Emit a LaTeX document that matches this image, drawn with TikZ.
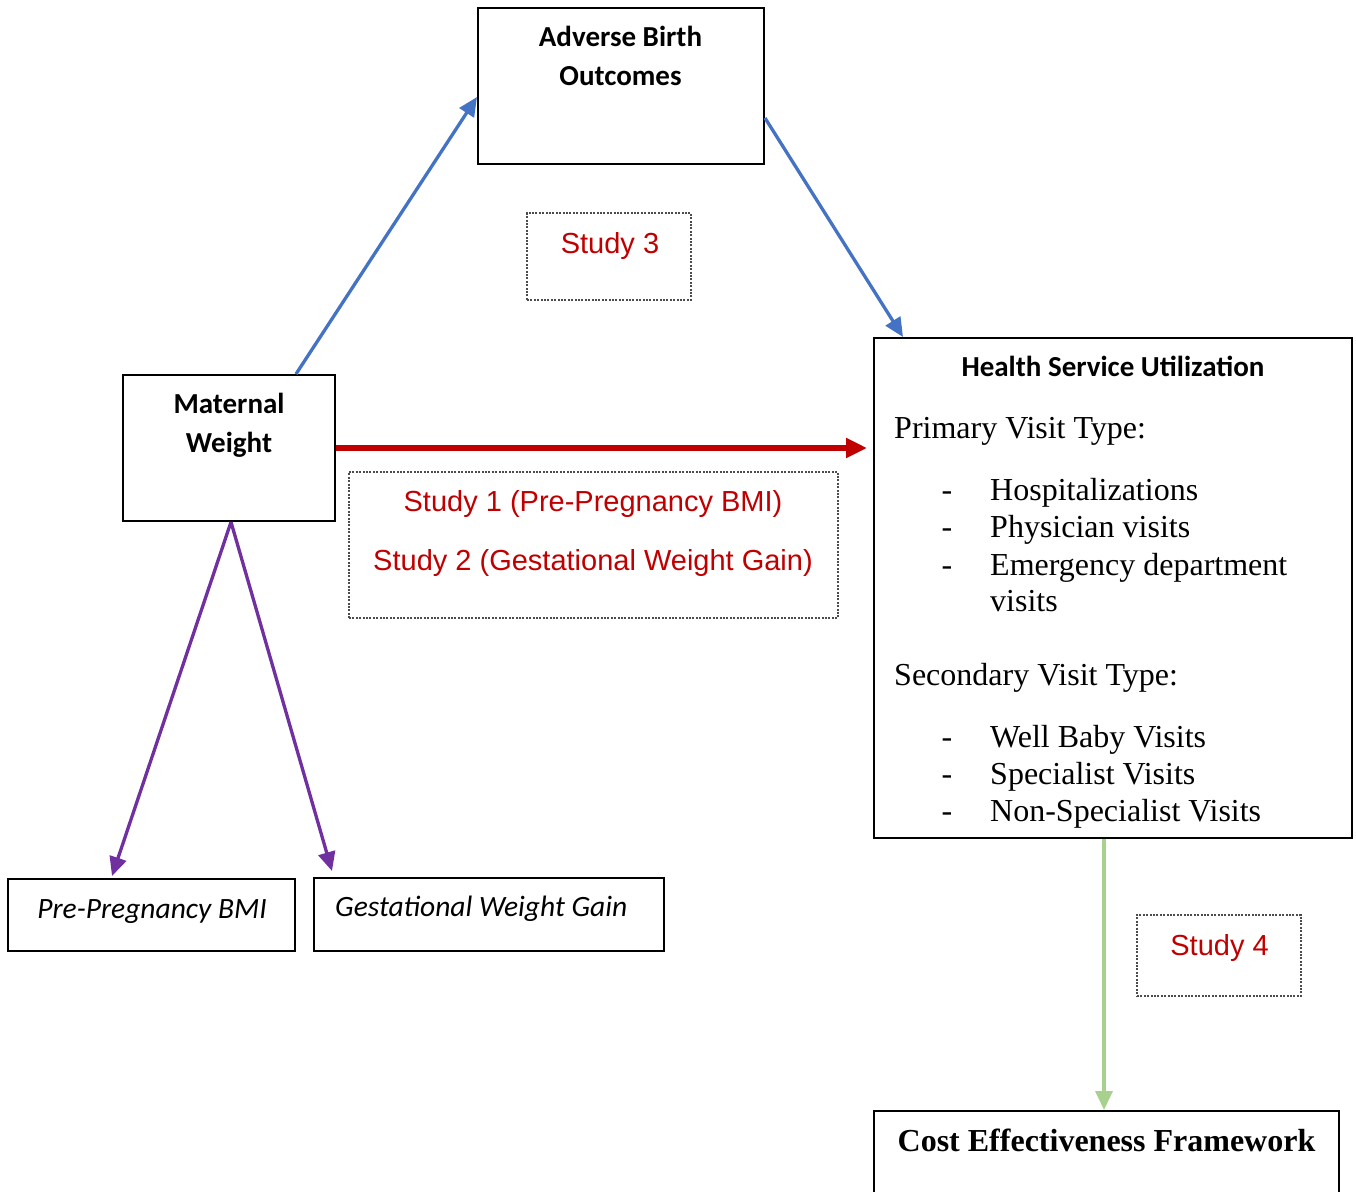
\documentclass[tikz,border=0pt]{standalone}
\usepackage{fontspec}
\setmainfont{Liberation Serif}
\newfontfamily\calfont{Carlito}
\newfontfamily\arifont{Liberation Sans}
\usetikzlibrary{arrows.meta,calc}
\definecolor{cblue}{HTML}{4472C4}
\definecolor{cred}{HTML}{C00000}
\definecolor{cpurple}{HTML}{7030A0}
\definecolor{cgreen}{HTML}{A9D18E}
\begin{document}
\begin{tikzpicture}[x=1pt,y=-1pt,
  box/.style={draw=black,line width=2pt,inner sep=0pt,fill=none},
  dotbox/.style={draw=black!70,line width=2.4pt,dash pattern=on 2pt off 1.4pt,inner sep=0pt},
  headtext/.style={font=\calfont\bfseries\fontsize{29}{39}\selectfont,inner sep=0pt},
  ittext/.style={font=\calfont\itshape\fontsize{29.5}{39}\selectfont,inner sep=0pt},
  studytext/.style={font=\arifont\fontsize{29}{35}\selectfont,text=cred,inner sep=0pt},
  bodytext/.style={font=\fontsize{32}{37}\selectfont,inner sep=0pt},
  conn/.style={line width=3.3pt,-{Triangle[length=19pt,width=17pt]}}
]
\useasboundingbox (0,0) rectangle (1356,1191);
\fill[white] (0,0) rectangle (1356,1191);

% boxes
\node[box,minimum width=286pt,minimum height=156pt] (abo) at (621,86) {};
\node[box,minimum width=212pt,minimum height=146pt] (mw) at (229,448) {};
\node[box,minimum width=478pt,minimum height=500pt] (hsu) at (1113,588) {};
\node[box,minimum width=287pt,minimum height=72pt] (pp) at (151.5,915) {};
\node[box,minimum width=350pt,minimum height=73pt] (gwg) at (489,914.5) {};
\node[box,minimum width=465pt,minimum height=88pt] (cef) at (1106.5,1155) {};

% dotted study boxes
\node[dotbox,minimum width=164pt,minimum height=87pt] (s3) at (609,256.5) {};
\node[dotbox,minimum width=489pt,minimum height=146pt] (s12) at (593.5,545) {};
\node[dotbox,minimum width=164pt,minimum height=81pt] (s4) at (1219,955.5) {};

% box texts
\node[headtext,anchor=base] (abo1) at (620.5,46) {Adverse Birth};
\node[headtext,anchor=base] (abo2) at (620.5,85) {Outcomes};
\node[headtext,anchor=base] (mw1) at (229,413) {Maternal};
\node[headtext,anchor=base] (mw2) at (229,452) {Weight};
\node[headtext,anchor=base] (hsu0) at (1113,376) {Health Service Utilization};
\node[ittext,anchor=base] (ppt) at (152,918) {Pre-Pregnancy BMI};
\node[ittext,anchor=base west] (gwgt) at (335,916) {Gestational Weight Gain};
\node[bodytext,font=\bfseries\fontsize{32}{37}\selectfont,anchor=base] (ceft) at (1106.5,1151) {Cost Effectiveness Framework};

% study labels
\node[studytext,anchor=base] (s3t) at (610,253) {Study 3};
\node[studytext,anchor=base] (s1t) at (593,511) {Study 1 (Pre-Pregnancy BMI)};
\node[studytext,anchor=base] (s2t) at (593,570) {Study 2 (Gestational Weight Gain)};
\node[studytext,anchor=base] (s4t) at (1219.5,955) {Study 4};

% visit type lists
\node[bodytext,anchor=base west] (pv) at (894,438) {Primary Visit Type:};
\foreach \y/\t [count=\i] in {500/Hospitalizations,537/Physician visits,575/Emergency department} {
  \node[bodytext,anchor=base] (pd\i) at (947,\y) {-};
  \node[bodytext,anchor=base west] (pi\i) at (990,\y) {\t};
}
\node[bodytext,anchor=base west] (pi4) at (990,611) {visits};
\node[bodytext,anchor=base west] (sv) at (894,685) {Secondary Visit Type:};
\foreach \y/\t [count=\i] in {747/Well Baby Visits,784/Specialist Visits,821/Non-Specialist Visits} {
  \node[bodytext,anchor=base] (sd\i) at (947,\y) {-};
  \node[bodytext,anchor=base west] (si\i) at (990,\y) {\t};
}

% connectors
\draw[conn,cblue] ($(mw.north)+(67,0)$) -- ($(abo.west)+(0,11)$);
\draw[conn,cblue] ($(abo.east)+(0,32)$) -- ($(hsu.north west)+(30,0)$);
\draw[cred,line width=6pt,-{Triangle[length=21pt,width=19pt]},shorten >=6pt] (mw.east) -- (mw.east -| hsu.west);
\draw[conn,cpurple] ($(mw.south)+(2,0)$) -- ($(pp.north west)+(105,-2)$);
\draw[conn,cpurple] ($(mw.south)+(2,0)$) -- ($(gwg.north west)+(19,-6)$);
\draw[conn,cgreen] ($(hsu.south)+(-9,0)$) coordinate (gs) -- (gs |- cef.north);
\end{tikzpicture}
\end{document}
